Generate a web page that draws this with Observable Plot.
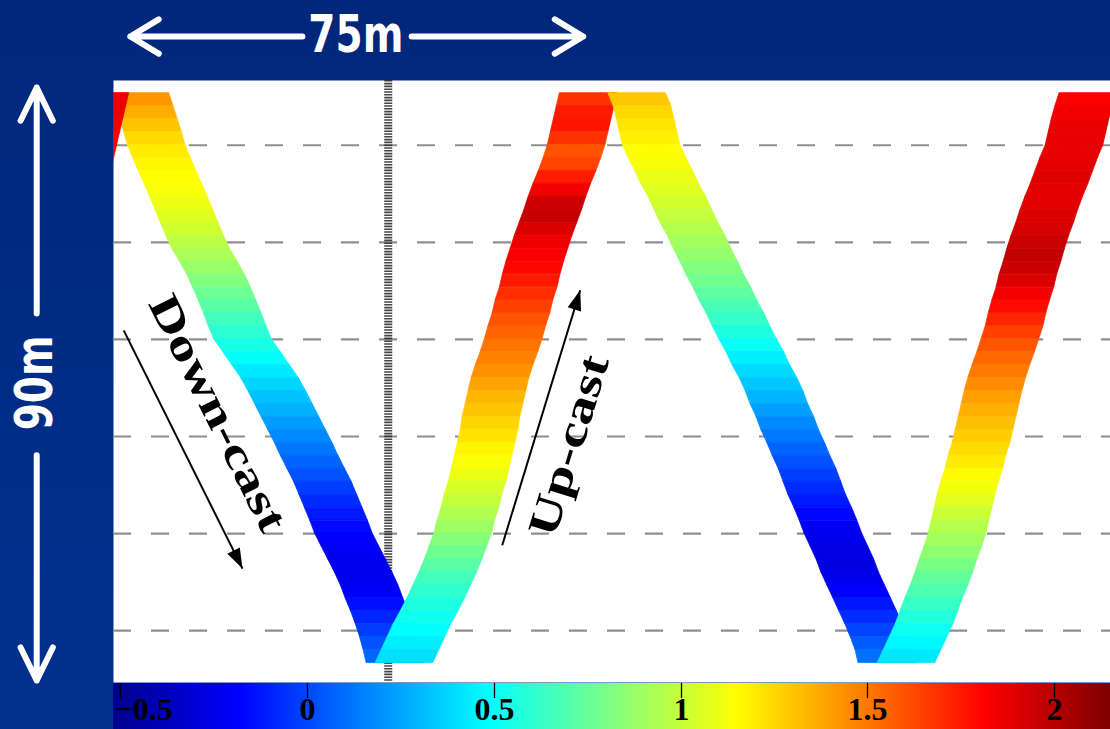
<!DOCTYPE html>
<html>
<head>
<meta charset="utf-8">
<script src="https://cdn.jsdelivr.net/npm/d3@7"></script>
<script src="https://cdn.jsdelivr.net/npm/@observablehq/plot@0.6"></script>
<style>
  html, body { margin: 0; padding: 0; }
  body { width: 1110px; height: 729px; overflow: hidden; background: linear-gradient(#00277a, #00318f); }
  #chart { position: relative; width: 1110px; height: 729px; }
  #chart > svg { position: absolute; }
</style>
</head>
<body>
<div id="chart"></div>
<script>
// Sample depths (m), shared by every cast of the towed profiler
const depth = [2,4,6,8,10,12,14,16,18,20,22,24,26,28,30,32,34,36,38,40,42,44,46,48,50,52,54,56,58,60,62,64,66,68,70,72,74,76,78,80,82,84,86,88,90];

// Along-track position (m) of each cast at the sample depths, and temperature (°C)
const down1X = [4.5,5.2,5.9,6.6,7.2,8.1,9.0,10.0,10.9,11.8,12.7,13.6,14.6,15.9,17.1,18.1,19.0,19.9,20.7,21.6,23.1,24.6,26.1,27.3,28.4,29.5,30.6,31.7,32.7,33.8,34.9,35.8,36.7,37.6,38.4,39.5,40.6,41.7,42.7,43.5,44.4,45.2,45.9,46.5,47.0];
const down1T = [1.45,1.40,1.33,1.27,1.22,1.18,1.16,1.14,1.12,1.09,1.05,1.00,0.95,0.90,0.85,0.79,0.74,0.68,0.62,0.57,0.52,0.46,0.40,0.34,0.30,0.25,0.20,0.15,0.10,0.05,0.00,-0.05,-0.10,-0.14,-0.18,-0.21,-0.23,-0.24,-0.22,-0.18,-0.12,-0.06,0.00,0.06,0.10];

const up1X = [79.2,78.7,78.2,77.7,77.2,76.5,75.7,74.8,74.0,73.3,72.5,71.7,71.0,70.3,69.7,69.2,68.5,68.0,67.3,66.7,66.0,65.2,64.5,64.0,63.5,63.0,62.7,62.2,61.7,61.2,60.7,60.0,59.5,58.8,58.3,57.5,56.7,55.8,54.8,53.8,52.7,51.5,50.5,49.5,48.5];
const up1T = [1.65,1.72,1.78,1.75,1.62,1.58,1.70,1.78,1.92,1.98,1.95,1.88,1.84,1.82,1.78,1.72,1.68,1.62,1.58,1.53,1.50,1.45,1.42,1.36,1.32,1.28,1.24,1.20,1.15,1.12,1.07,1.02,0.97,0.92,0.86,0.80,0.74,0.68,0.63,0.58,0.54,0.50,0.46,0.42,0.38];

const down2X = [87.3,88.2,88.7,89.2,89.7,90.7,91.8,92.8,94.0,95.0,96.0,97.2,98.2,99.3,100.3,101.5,102.5,103.7,104.7,105.8,107.0,108.0,109.2,110.2,111.0,112.0,112.8,113.8,114.7,115.7,116.5,117.3,118.3,119.2,120.0,121.0,122.0,122.8,123.8,124.8,125.8,126.8,127.7,128.5,129.0];
const down2T = [1.32,1.27,1.23,1.20,1.17,1.14,1.11,1.08,1.05,1.01,0.97,0.93,0.89,0.84,0.80,0.75,0.70,0.65,0.59,0.53,0.47,0.41,0.36,0.31,0.26,0.20,0.15,0.10,0.05,0.00,-0.05,-0.10,-0.15,-0.19,-0.23,-0.26,-0.28,-0.27,-0.22,-0.16,-0.10,-0.04,0.02,0.08,0.13];

const up2X = [162.5,161.8,161.2,160.7,160.2,159.3,158.5,157.7,156.8,156.0,155.3,154.5,153.8,153.2,152.5,152.0,151.3,150.7,150.2,149.5,148.8,148.0,147.3,146.7,146.2,145.7,145.2,144.7,144.0,143.5,142.8,142.2,141.7,141.2,140.7,140.0,139.2,138.5,137.7,136.8,136.0,135.2,134.2,133.2,132.2];
const up2T = [1.80,1.83,1.86,1.88,1.87,1.88,1.90,1.90,1.88,1.90,1.92,1.94,1.97,1.98,1.94,1.88,1.82,1.76,1.68,1.62,1.57,1.52,1.48,1.42,1.38,1.34,1.30,1.26,1.22,1.18,1.14,1.10,1.04,0.98,0.93,0.88,0.83,0.77,0.71,0.65,0.60,0.54,0.49,0.44,0.40];

// Tail of the preceding up-cast, only its shallowest samples enter the section
const up0X = [-2.2,-2.7,-3.2,-3.7,-4.2,-4.7,-5.2];
const up0T = [1.90,1.85,1.90,1.80,1.85,1.80,1.75];

// Reference depths of the dashed grid (m) and the station marker (m along track)
const gridDepths = [10, 25, 40, 55, 70, 85];
const stationX = [45.8];

// Colour bar
const tempDomain = [-0.52, 2.15];
const tempTicks = 6;
const jetStops = ["#00008f", "#0000ff", "#0080ff", "#00ffff", "#80ff80", "#ffff00", "#ff8000", "#ff0000", "#800000"];

// Scale annotations (outside the section frame)
const hBar = [{x1: 31.5, x2: 2.8}, {x1: 49.7, x2: 78.3}];   // 75 m bar halves
const hBarDepth = -6.8;
const vBar = [{y1: 36.0, y2: 1.1}, {y1: 57.9, y2: 92.7}];   // 90 m bar halves
const vBarX = -12.8;
const scaleLabels = [
  {x: 40.4, y: -6.95, text: "75m", rotate: 0},
  {x: -13.0, y: 46.7, text: "90m", rotate: -90}
];

// Cast direction annotations
const castNotes = [
  {text: "Down-cast", x1: 1.7, y1: 38.6, x2: 21.5, y2: 75.4, lx: 17.4, ly: 51.4},
  {text: "Up-cast", x1: 64.8, y1: 71.8, x2: 77.8, y2: 32.4, lx: 75.9, ly: 56.4}
];

// ---- build the band: one filled quad per pair of consecutive samples ----
const casts = [
  {id: "down1", x: down1X, t: down1T},
  {id: "up1", x: up1X, t: up1T},
  {id: "down2", x: down2X, t: down2T},
  {id: "up2", x: up2X, t: up2T},
  {id: "up0", x: up0X, t: up0T}
];
const HALF = 4.8; // half the horizontal thickness of the plotted band, m
const segments = [];
for (const c of casts) {
  for (let i = 0; i + 1 < c.x.length; ++i) {
    const temp = (c.t[i] + c.t[i + 1]) / 2;
    for (const j of [i, i + 1]) segments.push({seg: `${c.id}-${i}`, depth: depth[j], xc: c.x[j], temp});
  }
}

const jet = d3.piecewise(d3.interpolateRgb, jetStops);
const colorScale = {type: "linear", domain: tempDomain, interpolate: jet};

// geometry used to orient the annotation arrows
const W = 1110, H = 683, ML = 113, MT = 80, MB = 1;
const xDomain = [0, 166.2], yDomain = [0, 93];
const kx = (W - ML) / (xDomain[1] - xDomain[0]);
const ky = (H - MT - MB) / (yDomain[1] - yDomain[0]);
for (const n of castNotes) {
  n.angle = Math.atan2((n.y2 - n.y1) * ky, (n.x2 - n.x1) * kx) * 180 / Math.PI;
  n.headAngle = n.angle + 90;
}

// filled, slender arrowhead with its tip at the origin, pointing up
const arrowHead = {
  draw(ctx, size) {
    const r = Math.sqrt(size / Math.PI);
    ctx.moveTo(0, 0);
    ctx.lineTo(0.7 * r, 2 * r);
    ctx.lineTo(-0.7 * r, 2 * r);
    ctx.closePath();
  }
};

const chart = Plot.plot({
  width: W, height: H,
  marginTop: MT, marginLeft: ML, marginRight: 0, marginBottom: MB,
  style: {background: "transparent", overflow: "visible"},
  x: {domain: xDomain, axis: null},
  y: {domain: yDomain, reverse: true, axis: null},
  color: colorScale,
  marks: [
    Plot.frame({fill: "white", stroke: null}),
    Plot.ruleY(gridDepths, {stroke: "#8e8e8e", strokeWidth: 2.2, strokeDasharray: "18,20"}),
    Plot.ruleX(stationX, {stroke: "#222", strokeWidth: 8, strokeDasharray: "1.6,1.2", strokeOpacity: 0.85}),
    Plot.areaX(segments, {
      y: "depth", x1: d => d.xc - HALF, x2: d => d.xc + HALF, z: "seg",
      fill: "temp", stroke: "temp", strokeWidth: 0.8, clip: true
    }),
    // direction arrows and labels
    Plot.link(castNotes, {x1: "x1", y1: "y1", x2: "x2", y2: "y2", stroke: "black", strokeWidth: 2}),
    Plot.dot(castNotes, {x: "x2", y: "y2", symbol: arrowHead, r: 10, rotate: "headAngle", fill: "black"}),
    Plot.text(castNotes, {
      x: "lx", y: "ly", text: "text", rotate: "angle",
      fontFamily: "Liberation Serif", fontWeight: "bold", fontSize: 43, fill: "black"
    }),
    // scale bars
    Plot.arrow(hBar, {x1: "x1", x2: "x2", y1: hBarDepth, y2: hBarDepth, stroke: "white", strokeWidth: 6,
      headAngle: 62, headLength: 8.3, strokeLinecap: "round", strokeLinejoin: "round"}),
    Plot.arrow(vBar, {x1: vBarX, x2: vBarX, y1: "y1", y2: "y2", stroke: "white", strokeWidth: 6,
      headAngle: 52, headLength: 9.2, strokeLinecap: "round", strokeLinejoin: "round"}),
    Plot.text(scaleLabels, {
      x: "x", y: "y", text: "text", rotate: "rotate",
      fontFamily: "DejaVu Sans", fontWeight: "bold", fontSize: 52, fill: "white"
    })
  ]
});

// stretch the annotation lettering along its run
const runLength = new Map([["Down-cast", 259], ["Up-cast", 187], ["75m", 95], ["90m", 95]]);
d3.select(chart).selectAll("text").each(function () {
  const L = runLength.get(this.textContent);
  if (L) {
    this.setAttribute("textLength", L);
    this.setAttribute("lengthAdjust", "spacingAndGlyphs");
  }
});
chart.style.left = "0px";
chart.style.top = "0px";

// colour bar along the foot of the section
const bar = Plot.legend({
  color: colorScale,
  width: W - ML, height: 46,
  marginTop: 0, marginBottom: 0, marginLeft: 0, marginRight: 0,
  ticks: tempTicks, tickSize: 0, tickFormat: d3.format(""),
  style: {background: "transparent", overflow: "hidden", fontFamily: "Liberation Serif",
    fontSize: "32px", fontWeight: "bold", color: "black"}
});
d3.select(bar).selectAll(".tick line").attr("y1", -46).attr("y2", -31).attr("stroke-width", 1.3);
d3.select(bar).selectAll(".tick text").attr("y", -9).attr("dy", null);
// keep the leftmost label inside the bar
d3.select(bar).selectAll(".tick").filter((d, i) => i === 0).select("text")
  .attr("text-anchor", "start").attr("x", -6);
bar.style.position = "absolute";
bar.style.left = ML + "px";
bar.style.top = H + "px";

const root = document.getElementById("chart");
root.append(chart, bar);
</script>
</body>
</html>
